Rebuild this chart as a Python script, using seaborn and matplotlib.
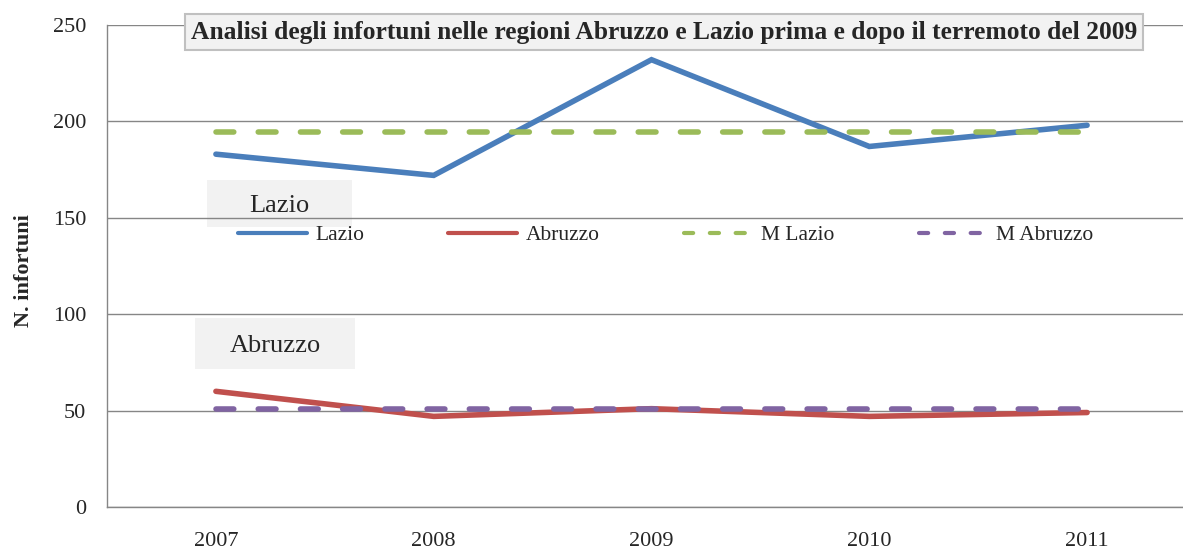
import numpy as np
import pandas as pd
import matplotlib
matplotlib.use("Agg")
import matplotlib.pyplot as plt
from matplotlib.lines import Line2D
from matplotlib.patches import Rectangle
import seaborn as sns

anni = ["2007", "2008", "2009", "2010", "2011"]
lazio = [183, 172, 232, 187, 198]
abruzzo = [60, 47, 51, 47, 49]
m_lazio = [194.4, 194.4, 194.4, 194.4, 194.4]
m_abruzzo = [50.8, 50.8, 50.8, 50.8, 50.8]

serie = ["Lazio", "Abruzzo", "M Lazio", "M Abruzzo"]
colori = {"Lazio": "#4a7ebb", "Abruzzo": "#c0504d",
          "M Lazio": "#9bbb59", "M Abruzzo": "#8064a2"}
tratteggio = {"Lazio": None, "Abruzzo": None,
              "M Lazio": (3.2, 4.4), "M Abruzzo": (3.2, 4.4)}

df = pd.DataFrame({
    "pos": list(range(len(anni))) * 4,
    "valore": lazio + abruzzo + m_lazio + m_abruzzo,
    "serie": [s for s in serie for _ in anni],
})

sns.set_style("white")
plt.rcParams['font.family'] = ['Liberation Serif', 'DejaVu Serif']

W, H = 1183, 551
fig = plt.figure(figsize=(W / 100, H / 100), dpi=100)
x0, y0, y1 = 107, 507, 25
step = 218
x_right = 215 + 4.5 * step
ax = fig.add_axes([x0 / W, (H - y0) / H, (x_right - x0) / W, (y0 - y1) / H])

for s in serie:
    sub = df[df["serie"] == s]
    sns.lineplot(data=sub, x="pos", y="valore", ax=ax, color=colori[s],
                 linewidth=4, sort=False, legend=False)
    ln = ax.get_lines()[-1]
    ln.set_solid_capstyle("round")
    ln.set_solid_joinstyle("miter")
    if tratteggio[s] is not None:
        ln.set_linestyle((0, tratteggio[s]))
        ln.set_dash_capstyle("round")

ax.set_xlim(-0.5, 4.5)
ax.set_ylim(0, 250)
ax.set_yticks([0, 50, 100, 150, 200, 250])
ax.set_xticks(range(len(anni)))
ax.set_xticklabels(anni)
ax.set_xticks(np.arange(-0.5, 4.6, 1), minor=True)
ax.tick_params(axis="x", which="major", length=0, pad=18, labelsize=16)
ax.tick_params(axis="x", which="minor", length=5, width=1, color="#868686",
               direction="out")
ax.tick_params(axis="y", length=5, width=1, color="#868686", direction="out",
               pad=10, labelsize=16)
ax.set_axisbelow(True)
ax.yaxis.grid(True, color="#868686", linewidth=1)
ax.xaxis.grid(False)
for side in ["top", "right"]:
    ax.spines[side].set_visible(False)
for side in ["left", "bottom"]:
    ax.spines[side].set_color("#868686")
    ax.spines[side].set_linewidth(1)
ax.set_xlabel("")
ax.set_ylabel("N. infortuni", fontsize=16, fontweight="bold")
ax.yaxis.set_label_coords((34 - x0) / (x_right - x0), 0.49)

# riquadri con i nomi delle regioni
for testo, (bx0, by0, bx1, by1) in [("Lazio", (207, 180, 352, 227)),
                                     ("Abruzzo", (195, 318, 355, 369))]:
    ax.add_patch(Rectangle((bx0 / W, 1 - by1 / H), (bx1 - bx0) / W,
                           (by1 - by0) / H, transform=fig.transFigure,
                           facecolor="#f2f2f2", edgecolor="none", zorder=0.2))
    fig.text((bx0 + bx1) / 2 / W, 1 - ((by0 + by1) / 2 + 3) / H, testo,
             ha="center", va="center", fontsize=19)

# titolo
fig.text(664 / W, 1 - 32 / H,
         "Analisi degli infortuni nelle regioni Abruzzo e Lazio prima e dopo il terremoto del 2009",
         ha="center", va="center", fontsize=18.4, fontweight="bold",
         bbox=dict(boxstyle="square,pad=0.24", facecolor="#f2f2f2",
                   edgecolor="#c0c0c0", linewidth=1.5), zorder=5)

handles = []
for s in serie:
    if tratteggio[s] is None:
        h = Line2D([], [], color=colori[s], linewidth=3, solid_capstyle="round")
    else:
        h = Line2D([], [], color=colori[s], linewidth=3,
                   linestyle=(0, (2.2, 4.0)), dash_capstyle="round")
    handles.append(h)
fig.legend(handles, serie, loc="center left",
           bbox_to_anchor=(238 / W, 1 - 235 / H), ncol=4, frameon=False,
           fontsize=15.5, borderpad=0, borderaxespad=0, handlelength=3.2,
           handletextpad=0.4, columnspacing=3.9)

fig.savefig("out.png", dpi=100)
